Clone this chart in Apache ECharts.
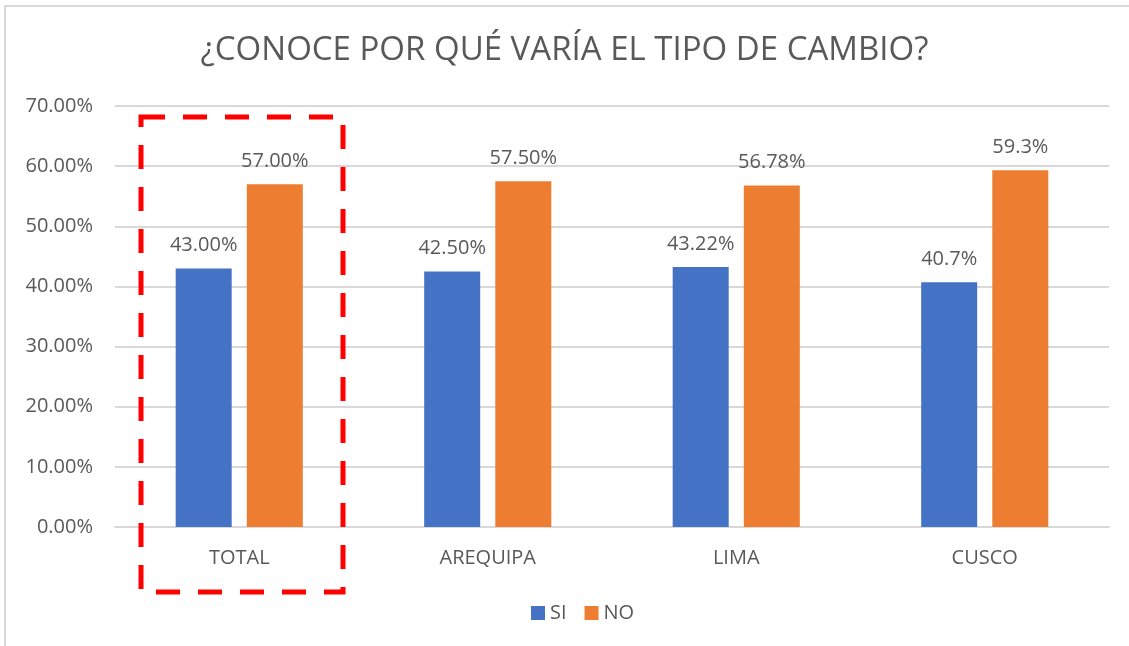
<!DOCTYPE html>
<html>
<head>
<meta charset="utf-8">
<script src="https://cdn.jsdelivr.net/npm/echarts@6/dist/echarts.min.js"></script>
<style>
  html, body { margin: 0; padding: 0; background: #fff; }
  #chart { width: 1129px; height: 646px; }
</style>
</head>
<body>
<div id="chart"></div>
<script>
  // datos
  var categorias = ['TOTAL', 'AREQUIPA', 'LIMA', 'CUSCO'];
  var datosSI = [43.00, 42.50, 43.22, 40.7];
  var datosNO = [57.00, 57.50, 56.78, 59.3];
  var etiquetasSI = ['43.00%', '42.50%', '43.22%', '40.7%'];
  var etiquetasNO = ['57.00%', '57.50%', '56.78%', '59.3%'];
  var ticksY = [0, 10, 20, 30, 40, 50, 60, 70];

  var myChart = echarts.init(document.getElementById('chart'));
  var gris = '#595959';
  var fuente = '"Open Sans", "Noto Sans", sans-serif';

  myChart.setOption({
    animation: false,
    textStyle: { fontFamily: fuente },
    title: {
      text: '¿CONOCE POR QUÉ VARÍA EL TIPO DE CAMBIO?',
      left: 'center',
      top: 29,
      textStyle: {
        color: gris,
        fontSize: 33,
        fontWeight: 'normal',
        fontFamily: fuente
      }
    },
    legend: {
      bottom: 18,
      left: 526,
      itemWidth: 14,
      itemHeight: 14,
      itemGap: 18,
      icon: 'rect',
      textStyle: { color: gris, fontSize: 20, fontFamily: fuente },
      data: ['SI', 'NO']
    },
    grid: {
      left: 115,
      right: 20,
      top: 106,
      bottom: 119
    },
    xAxis: {
      type: 'category',
      data: categorias,
      axisTick: { show: false },
      axisLine: { lineStyle: { color: '#d9d9d9', width: 2 } },
      axisLabel: { color: gris, fontSize: 20, margin: 21, fontFamily: fuente }
    },
    yAxis: {
      type: 'value',
      min: ticksY[0],
      max: ticksY[ticksY.length - 1],
      interval: 10,
      axisLine: { show: false },
      axisTick: { show: false },
      splitLine: { lineStyle: { color: '#d9d9d9', width: 2 } },
      axisLabel: {
        color: gris,
        fontSize: 20,
        margin: 22,
        fontFamily: fuente,
        formatter: function (v) { return v.toFixed(2) + '%'; }
      }
    },
    series: [
      {
        name: 'SI',
        type: 'bar',
        data: datosSI,
        barWidth: 56,
        barGap: '27%',
        itemStyle: { color: '#4472c4' },
        label: {
          show: true,
          position: 'top',
          distance: 13,
          color: gris,
          fontSize: 20,
          fontFamily: fuente,
          formatter: function (p) { return etiquetasSI[p.dataIndex]; }
        }
      },
      {
        name: 'NO',
        type: 'bar',
        data: datosNO,
        barWidth: 56,
        itemStyle: { color: '#ed7d31' },
        label: {
          show: true,
          position: 'top',
          distance: 13,
          color: gris,
          fontSize: 20,
          fontFamily: fuente,
          formatter: function (p) { return etiquetasNO[p.dataIndex]; }
        }
      }
    ],
    graphic: [
      {
        type: 'rect',
        shape: { x: 5, y: 6, width: 1200, height: 700 },
        style: { fill: 'none', stroke: '#d9d9d9', lineWidth: 2 },
        silent: true
      },
      {
        // recuadro rojo punteado
        type: 'rect',
        shape: { x: 141, y: 117, width: 202, height: 475 },
        style: { fill: 'none', stroke: '#ff0000', lineWidth: 5, lineDash: [24, 18] },
        z: 100,
        silent: true
      }
    ]
  });
</script>
</body>
</html>
